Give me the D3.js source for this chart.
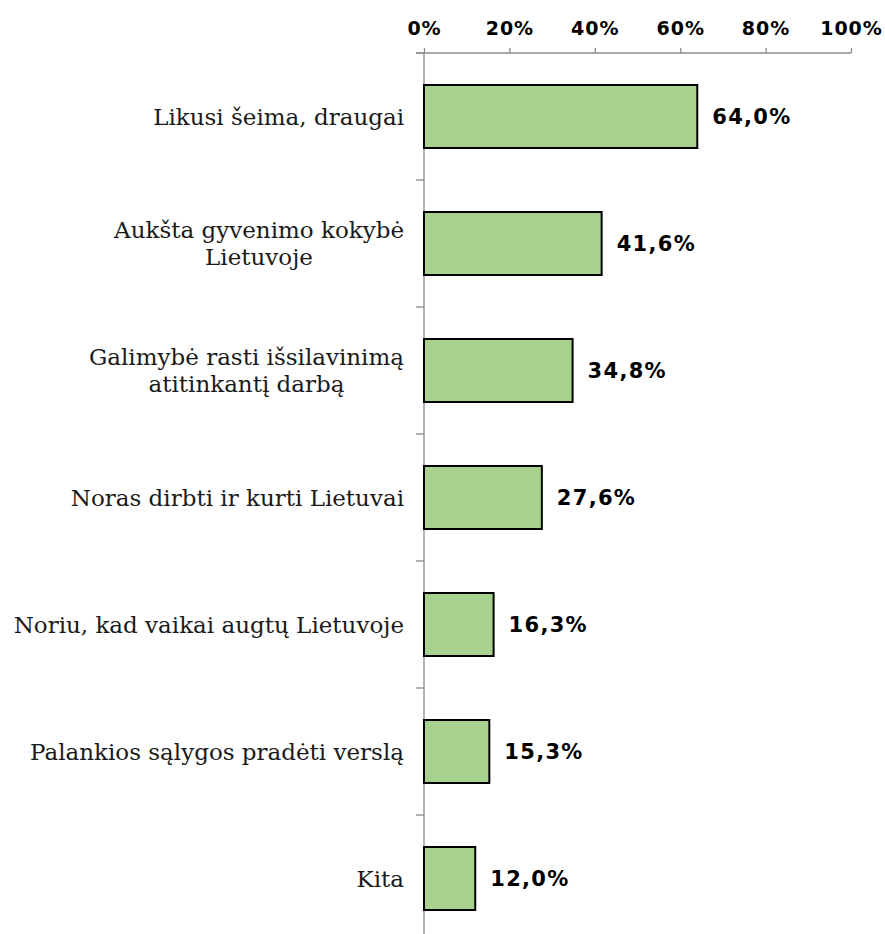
<!DOCTYPE html>
<html>
<head>
<meta charset="utf-8">
<script src="https://cdn.jsdelivr.net/npm/d3@7"></script>
<style>
  body { margin: 0; background: #fff; }
  svg { display: block; }
</style>
</head>
<body>
<svg id="chart" width="885" height="934"></svg>
<script>
const categories = [
  ["Likusi šeima, draugai"],
  ["Aukšta gyvenimo kokybė", "Lietuvoje"],
  ["Galimybė rasti išsilavinimą", "atitinkantį darbą"],
  ["Noras dirbti ir kurti Lietuvai"],
  ["Noriu, kad vaikai augtų Lietuvoje"],
  ["Palankios sąlygos pradėti verslą"],
  ["Kita"]
];
const values = [64.0, 41.6, 34.8, 27.6, 16.3, 15.3, 12.0];
const tickValues = [0, 20, 40, 60, 80, 100];
const valueLabels = ["64,0%", "41,6%", "34,8%", "27,6%", "16,3%", "15,3%", "12,0%"];

const svg = d3.select("#chart");
const margin = { left: 424, top: 53 };
const plotW = 427, step = 127;
const ids = categories.map((d, i) => i);

const x = d3.scaleLinear().domain([0, 100]).range([margin.left, margin.left + plotW]);
const y = d3.scaleBand().domain(ids).range([margin.top, margin.top + step * ids.length]).padding(0);

// top axis
const xAxis = d3.axisTop(x).tickValues(tickValues).tickFormat(d => d + "%")
  .tickSize(5).tickSizeOuter(0).tickPadding(13);
const gx = svg.append("g").attr("transform", `translate(0,${margin.top})`).call(xAxis);
gx.select(".domain").attr("stroke", "#8c8c8c").attr("stroke-width", 1.3)
  .attr("d", `M${margin.left - 8},0H${margin.left + plotW}`);
gx.selectAll(".tick line").attr("stroke", "#8c8c8c").attr("stroke-width", 1.3);
gx.selectAll(".tick text").attr("fill", "#000")
  .style("font-family", "'DejaVu Sans', Verdana, sans-serif")
  .style("font-weight", "bold").style("font-size", "19px")
  .style("letter-spacing", "1px");

// left axis line with boundary ticks
svg.append("line").attr("x1", margin.left).attr("x2", margin.left)
  .attr("y1", margin.top).attr("y2", 934)
  .attr("stroke", "#8c8c8c").attr("stroke-width", 1.3);
const bounds = ids.map(i => y(i)).concat([y(ids.length - 1) + y.bandwidth()]);
svg.selectAll(".ytick").data(bounds).enter().append("line")
  .attr("x1", margin.left - 8).attr("x2", margin.left)
  .attr("y1", d => d).attr("y2", d => d)
  .attr("stroke", "#8c8c8c").attr("stroke-width", 1.3);

// bars
const barH = 63;
svg.selectAll(".bar").data(values).enter().append("rect")
  .attr("x", x(0))
  .attr("y", (d, i) => y(i) + (y.bandwidth() - barH) / 2)
  .attr("width", d => x(d) - x(0))
  .attr("height", barH)
  .attr("fill", "#a9d18e")
  .attr("stroke", "#000").attr("stroke-width", 2);

// value labels
svg.selectAll(".val").data(values).enter().append("text")
  .attr("x", d => x(d) + 15)
  .attr("y", (d, i) => y(i) + y.bandwidth() / 2)
  .attr("dy", "0.36em")
  .style("font-family", "'DejaVu Sans', Verdana, sans-serif")
  .style("font-weight", "bold").style("font-size", "21px")
  .style("letter-spacing", "1.3px")
  .text((d, i) => valueLabels[i]);

// category labels
const lineH = 27;
const catG = svg.selectAll(".cat").data(categories).enter().append("text")
  .style("font-family", "'DejaVu Serif', 'Liberation Serif', serif")
  .style("font-size", "23px").attr("fill", "#1a1a1a");
catG.each(function(lines, i) {
  const t = d3.select(this);
  const cy = y(i) + y.bandwidth() / 2;
  const n = lines.length;
  lines.forEach((ln, k) => {
    t.append("tspan").text(ln)
      .attr("y", cy + (k - (n - 1) / 2) * lineH)
      .attr("dy", "0.35em");
  });
  const tsp = t.selectAll("tspan").nodes();
  const widths = tsp.map(n => n.getComputedTextLength());
  const maxW = d3.max(widths);
  const right = margin.left - 20;
  const center = right - maxW / 2;
  tsp.forEach(n => d3.select(n).attr("x", center).attr("text-anchor", "middle"));
});
</script>
</body>
</html>
